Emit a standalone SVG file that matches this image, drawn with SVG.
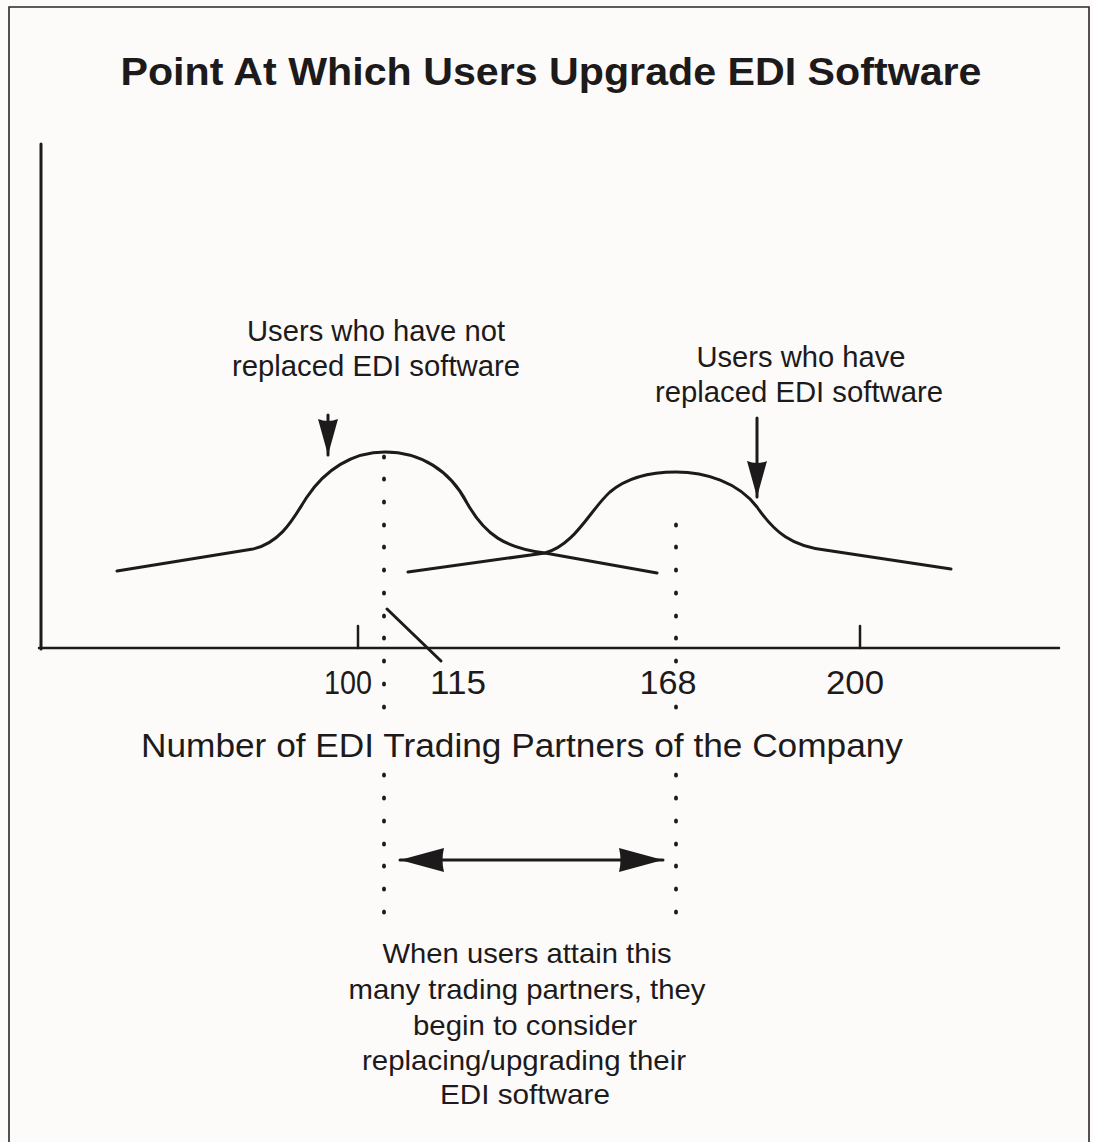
<svg xmlns="http://www.w3.org/2000/svg" width="1093" height="1142" viewBox="0 0 1093 1142">
  <style>
    .ink { stroke: #1c1a1a; fill: none; stroke-linecap: round; stroke-linejoin: round; }
    .txt { font-family: "Liberation Sans", Arial, sans-serif; fill: #1c1a1a; text-anchor: middle; }
    .dot { fill: #1c1a1a; }
  </style>
  <defs>
    <marker id="headSmall" markerUnits="userSpaceOnUse" markerWidth="38" markerHeight="22" refX="36" refY="11" orient="auto">
      <path d="M0,1 L36,11 L0,21 Q4,11 0,1 z" fill="#1c1a1a"/>
    </marker>
    <marker id="headLarge" markerUnits="userSpaceOnUse" markerWidth="46" markerHeight="26" refX="44" refY="13" orient="auto-start-reverse">
      <path d="M0,1 L44,13 L0,25 Q3,13 0,1 z" fill="#1c1a1a"/>
    </marker>
    <ellipse id="d" cx="0" cy="0" rx="2" ry="2.5" class="dot"/>
  </defs>

  <!-- page -->
  <rect x="0" y="0" width="1093" height="1142" fill="#fcfbfa"/>
  <path d="M9,1142 V7 H1089 V1142" fill="none" stroke="#2a2626" stroke-width="1.6"/>

  <!-- title -->
  <text class="txt" x="551" y="85" font-size="39" font-weight="bold" textLength="861" lengthAdjust="spacingAndGlyphs">Point At Which Users Upgrade EDI Software</text>

  <!-- axes -->
  <g id="axes">
    <line class="ink" x1="41" y1="144" x2="41" y2="649" stroke-width="3"/>
    <line class="ink" x1="39" y1="648" x2="1059" y2="648" stroke-width="2.5"/>
    <line class="ink" x1="358" y1="626" x2="358" y2="648" stroke-width="2.5"/>
    <line class="ink" x1="860" y1="626" x2="860" y2="648" stroke-width="2.5"/>
  </g>

  <!-- tick labels -->
  <g id="tick-labels">
    <text class="txt" x="348" y="694" font-size="33" textLength="48" lengthAdjust="spacingAndGlyphs">100</text>
    <text class="txt" x="458" y="694" font-size="33" textLength="56" lengthAdjust="spacingAndGlyphs">115</text>
    <text class="txt" x="668" y="694" font-size="33" textLength="57" lengthAdjust="spacingAndGlyphs">168</text>
    <text class="txt" x="855" y="694" font-size="33" textLength="58" lengthAdjust="spacingAndGlyphs">200</text>
  </g>
  <text class="txt" x="522" y="757" font-size="33" textLength="762" lengthAdjust="spacingAndGlyphs">Number of EDI Trading Partners of the Company</text>

  <!-- distribution curves -->
  <g id="curve-not-replaced">
    <path class="ink" stroke-width="3" d="M117,571 L253,549 C283,542 295,515 307,497 C325,470 352,452 385,452 C420,452 450,470 467,503 C485,535 505,548 545,553 L657,573"/>
  </g>
  <g id="curve-replaced">
    <path class="ink" stroke-width="3" d="M408,572 L545,553 C575,545 590,510 610,492 C630,475 655,472 676,472 C705,472 738,482 757,507 C775,533 792,546 825,550 L951,569"/>
  </g>

  <!-- annotations -->
  <g id="label-not-replaced">
    <text class="txt" x="376" y="341" font-size="29" textLength="258" lengthAdjust="spacingAndGlyphs">Users who have not</text>
    <text class="txt" x="376" y="376" font-size="29" textLength="288" lengthAdjust="spacingAndGlyphs">replaced EDI software</text>
  </g>
  <g id="label-replaced">
    <text class="txt" x="801" y="367" font-size="29" textLength="209" lengthAdjust="spacingAndGlyphs">Users who have</text>
    <text class="txt" x="799" y="402" font-size="29" textLength="288" lengthAdjust="spacingAndGlyphs">replaced EDI software</text>
  </g>

  <g id="connectors">
    <line class="ink" x1="328" y1="415" x2="328" y2="455" stroke-width="3" marker-end="url(#headSmall)"/>
    <line class="ink" x1="757" y1="418" x2="757" y2="497" stroke-width="3" marker-end="url(#headSmall)"/>
    <line class="ink" x1="400" y1="860" x2="663" y2="860" stroke-width="3" marker-start="url(#headLarge)" marker-end="url(#headLarge)"/>
    <line class="ink" x1="387" y1="609" x2="441" y2="661" stroke-width="3"/>
  </g>

  <!-- dotted guides at 115 and 168 -->
  <g id="guide-115">
    <use href="#d" x="384" y="457"/>
    <use href="#d" x="384" y="479"/><use href="#d" x="384" y="502"/><use href="#d" x="384" y="525"/>
    <use href="#d" x="384" y="547"/><use href="#d" x="384" y="570"/><use href="#d" x="384" y="593"/>
    <use href="#d" x="384" y="616"/><use href="#d" x="384" y="638"/><use href="#d" x="384" y="661"/>
    <use href="#d" x="384" y="684"/><use href="#d" x="384" y="707"/>
    <use href="#d" x="384" y="775"/><use href="#d" x="384" y="798"/><use href="#d" x="384" y="821"/>
    <use href="#d" x="384" y="844"/><use href="#d" x="384" y="866"/><use href="#d" x="384" y="889"/>
    <use href="#d" x="384" y="912"/>
  </g>
  <g id="guide-168">
    <use href="#d" x="676" y="525"/><use href="#d" x="676" y="547"/><use href="#d" x="676" y="570"/>
    <use href="#d" x="676" y="593"/><use href="#d" x="676" y="616"/><use href="#d" x="676" y="638"/>
    <use href="#d" x="676" y="661"/><use href="#d" x="676" y="707"/>
    <use href="#d" x="676" y="775"/><use href="#d" x="676" y="798"/><use href="#d" x="676" y="821"/>
    <use href="#d" x="676" y="844"/><use href="#d" x="676" y="866"/><use href="#d" x="676" y="889"/>
    <use href="#d" x="676" y="912"/>
  </g>

  <!-- explanation -->
  <g id="explanation">
    <text class="txt" x="527" y="963" font-size="28" textLength="289" lengthAdjust="spacingAndGlyphs">When users attain this</text>
    <text class="txt" x="527" y="999" font-size="28" textLength="357" lengthAdjust="spacingAndGlyphs">many trading partners, they</text>
    <text class="txt" x="525" y="1035" font-size="28" textLength="224" lengthAdjust="spacingAndGlyphs">begin to consider</text>
    <text class="txt" x="524" y="1070" font-size="28" textLength="324" lengthAdjust="spacingAndGlyphs">replacing/upgrading their</text>
    <text class="txt" x="525" y="1104" font-size="28" textLength="170" lengthAdjust="spacingAndGlyphs">EDI software</text>
  </g>
</svg>
